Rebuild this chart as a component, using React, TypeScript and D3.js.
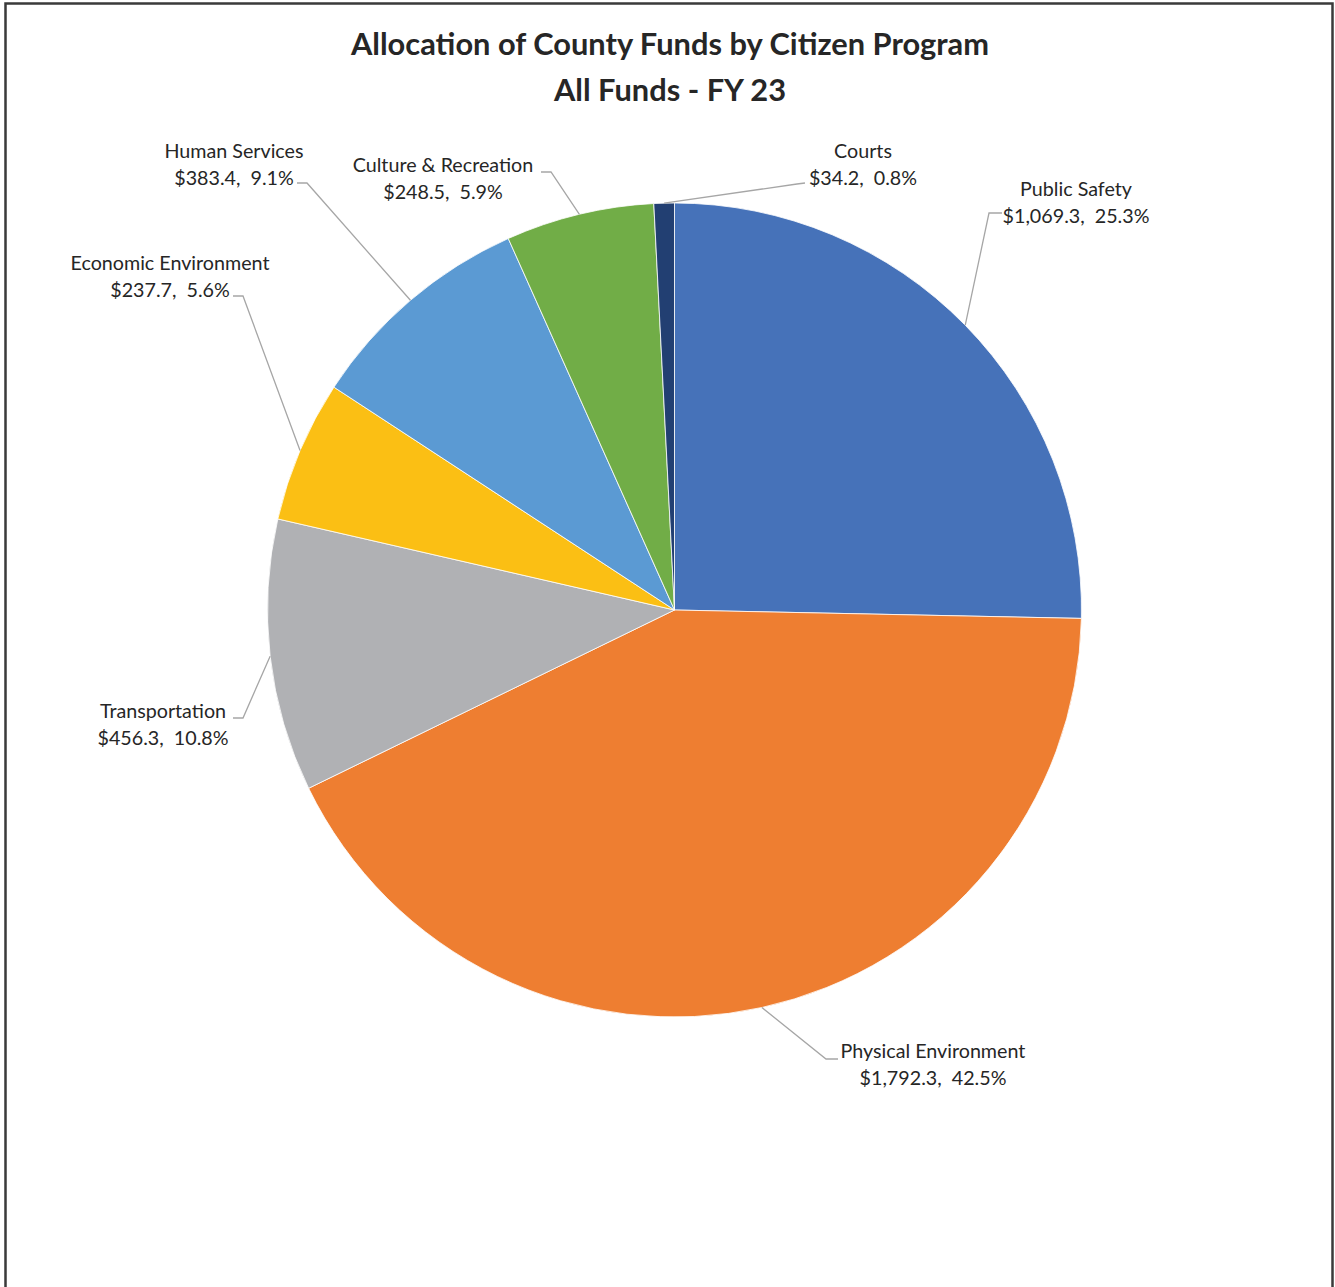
import React from "react";
import * as d3 from "d3";

const categories = [
  "Public Safety",
  "Physical Environment",
  "Transportation",
  "Economic Environment",
  "Human Services",
  "Culture & Recreation",
  "Courts",
];
const amounts = [1069.3, 1792.3, 456.3, 237.7, 383.4, 248.5, 34.2];
const percents = ["25.3%", "42.5%", "10.8%", "5.6%", "9.1%", "5.9%", "0.8%"];
const colors = ["#4672B9", "#EE7E31", "#B0B1B4", "#FBBF14", "#5B9AD3", "#71AD47", "#223F72"];
const titleLines = ["Allocation of County Funds by Citizen Program", "All Funds - FY 23"];

// label layout: text center x, first baseline y, elbow points (label side)
const labelLayout = [
  { x: 1076, y: 196, elbow: [[1002, 213], [989, 213]] },
  { x: 933, y: 1058, elbow: [[838, 1059], [826, 1059]] },
  { x: 163, y: 718, elbow: [[233, 718], [243, 718]] },
  { x: 170, y: 270, elbow: [[233, 296], [243, 296]] },
  { x: 234, y: 158, elbow: [[297, 183], [307, 183]] },
  { x: 443, y: 172, elbow: [[541, 172], [551, 172]] },
  { x: 863, y: 158, elbow: [[805, 183], [797, 184]] },
];

const W = 1335;
const H = 1287;
const cx = 674.5;
const cy = 610;
const R = 407;

export default function App() {
  const data = categories.map((c, i) => ({ c, v: amounts[i], p: percents[i], color: colors[i], i }));
  const pie = d3.pie<any>().value((d) => d.v).sort(null);
  const arcs = pie(data);
  const arc = d3.arc<any>().innerRadius(0).outerRadius(R);
  const fmt = d3.format(",.1f");
  const font = "Lato, 'Noto Sans', sans-serif";

  return (
    <svg
      width={W}
      height={H}
      style={{ position: "absolute", left: 0, top: 0, background: "#fff" }}
    >
      <rect x={5.5} y={3.5} width={1327} height={H + 20} fill="#fff" stroke="#3a3a3a" strokeWidth={2.5} />
      {titleLines.map((t, i) => (
        <text
          key={i}
          x={670}
          y={55 + i * 46}
          textAnchor="middle"
          fontFamily={font}
          fontWeight={700}
          fontSize={30.8}
          fill="#262626"
        >
          {t}
        </text>
      ))}
      <g transform={`translate(${cx},${cy})`}>
        {arcs.map((a, i) => (
          <path key={i} d={arc(a) as string} fill={a.data.color} stroke="#fff" strokeWidth={0.8} />
        ))}
      </g>
      {arcs.map((a, i) => {
        const mid = (a.startAngle + a.endAngle) / 2;
        const px = cx + R * Math.sin(mid);
        const py = cy - R * Math.cos(mid);
        const L = labelLayout[i];
        const pts = [...L.elbow, [px, py]];
        return (
          <g key={i}>
            <polyline
              points={pts.map((p) => p.join(",")).join(" ")}
              fill="none"
              stroke="#A6A6A6"
              strokeWidth={1.3}
            />
            <text
              x={L.x}
              y={L.y}
              textAnchor="middle"
              fontFamily={font}
              fontSize={19.7}
              fill="#262626"
              style={{ whiteSpace: "pre" }}
            >
              <tspan x={L.x}>{a.data.c}</tspan>
              <tspan x={L.x} dy={27}>{`$${fmt(a.data.v)},  ${a.data.p}`}</tspan>
            </text>
          </g>
        );
      })}
    </svg>
  );
}
